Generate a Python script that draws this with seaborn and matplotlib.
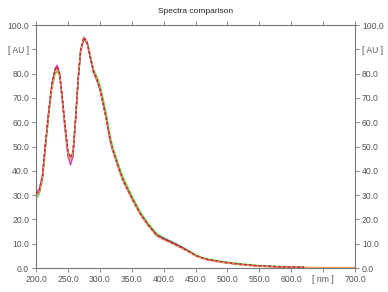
import numpy as np
import pandas as pd
import matplotlib
matplotlib.use("Agg")
import matplotlib.pyplot as plt
import seaborn as sns

# wavelengths (nm)
wavelength = [200, 205, 210, 215, 220, 225, 230, 233, 237, 240, 245, 250, 254, 258,
              262, 266, 270, 275, 280, 285, 290, 295, 300, 305, 310, 316, 320, 330,
              337, 350, 363, 375, 389, 400, 410, 420, 430, 440, 450, 460, 470, 483,
              500, 520, 550, 590, 620]

spectrum_magenta = [31.0, 32.5, 38, 52, 65, 76, 82, 83.5, 80, 72, 58, 46, 42.5, 46,
                    61, 78, 90, 95, 93, 87, 81, 78, 74, 68, 61.5, 53, 49, 40.5,
                    35.5, 28.5, 22.3, 17.8, 13.4, 11.8, 10.6, 9.3, 8.0, 6.6, 5.1, 4.1, 3.4, 2.8,
                    2.1, 1.5, 0.8, 0.4, 0.3]
spectrum_red = [30.5, 32, 38, 52, 65, 76, 82, 83, 80, 73, 60, 48, 45.5, 48,
                62, 78, 90, 95, 93, 87, 81, 78, 74, 68, 62, 53, 49, 41,
                36, 29, 22.6, 18, 13.6, 12, 10.8, 9.5, 8.2, 6.8, 5.2, 4.2, 3.5, 2.9,
                2.2, 1.6, 0.9, 0.5, 0.3]
spectrum_green = [28.5, 30.5, 36, 50, 63, 74, 80, 81, 79, 72, 59, 47.5, 45, 48,
                  62, 78, 90, 94.5, 93, 87.5, 82, 79, 75.5, 70, 63.5, 54.5, 50, 42,
                  37, 29.8, 23.3, 18.6, 14.2, 12.5, 11.2, 9.9, 8.6, 7.1, 5.5, 4.4, 3.7, 3.1,
                  2.4, 1.8, 1.0, 0.6, 0.4]
spectrum_purple = [30.0, 31.5, 37.5, 51.5, 64.5, 75.5, 81.5, 82.5, 79.5, 72.5, 59.5, 47.5, 44.5, 47.5,
                   61.5, 77.5, 89.5, 94.5, 92.5, 86.5, 80.5, 77.5, 73.5, 67.5, 61.5, 52.5, 48.5, 40.5,
                   35.5, 28.8, 22.4, 17.9, 13.6, 12.2, 11.0, 9.7, 8.3, 6.8, 5.2, 4.1, 3.4, 2.8,
                   2.1, 1.5, 0.8, 0.4, 0.3]
orange_wavelength = [200, 205, 210, 215, 220, 225, 230, 233, 237, 240, 245, 250, 254, 258,
                     262, 266, 270, 275, 280, 285, 290, 295, 300, 305, 310, 316, 320, 330,
                     337, 350, 363, 375, 389, 400, 410, 420, 430, 440, 450, 460, 470, 483,
                     500, 520, 550, 590, 620, 650, 700]
spectrum_orange = [30.0, 31.5, 37, 51, 64, 75, 81, 82, 79.5, 72.5, 59.5, 47.5, 44.5, 47.5,
                   61.5, 78, 90, 95, 93, 87, 81, 78, 74, 68, 61.5, 52.5, 48.5, 40.5,
                   35.5, 28.5, 22.2, 17.6, 13.2, 11.6, 10.5, 9.2, 7.9, 6.5, 5.0, 4.0, 3.3, 2.7,
                   2.0, 1.4, 0.7, 0.4, 0.3, 0.2, 0.2]

series_names = ["magenta", "green", "purple", "red", "orange"]
series_colors = {"magenta": "#d040c0", "green": "#60e040", "purple": "#6a3d8a",
                 "red": "#d02030", "orange": "#f5a060"}

frames = []
for name, wl, vals in [("magenta", wavelength, spectrum_magenta),
                       ("green", wavelength, spectrum_green),
                       ("purple", wavelength, spectrum_purple),
                       ("red", wavelength, spectrum_red),
                       ("orange", orange_wavelength, spectrum_orange)]:
    frames.append(pd.DataFrame({"nm": wl, "AU": vals, "series": name}))
df = pd.concat(frames, ignore_index=True)

x_ticks = [200, 250, 300, 350, 400, 450, 500, 550, 600, 650, 700]
x_tick_labels = ["200.0", "250.0", "300.0", "350.0", "400.0", "450.0", "500.0",
                 "550.0", "600.0", "[ nm ]", "700.0"]
y_ticks = [0, 10, 20, 30, 40, 50, 60, 70, 80, 90, 100]
y_tick_labels = ["0.0", "10.0", "20.0", "30.0", "40.0", "50.0", "60.0", "70.0",
                 "80.0", "[ AU ]", "100.0"]

sns.set_theme(style="white")
plt.rcParams["font.family"] = ["Liberation Sans", "DejaVu Sans"]

fig = plt.figure(figsize=(3.88, 2.92), dpi=100)
ax = fig.add_axes([0.093, 0.082, 0.822, 0.832])

sns.lineplot(data=df, x="nm", y="AU", hue="series", palette=series_colors,
             hue_order=series_names, linewidth=1.0, ax=ax, legend=False,
             sort=False, estimator=None)
# red dotted overlay like the reference
ax.lines[3].set_linestyle((0, (2, 1.5)))
ax.lines[3].set_zorder(5)

ax.set_xlim(200, 700)
ax.set_ylim(0, 100)
ax.set_xlabel("")
ax.set_ylabel("")
ax.set_xticks(x_ticks)
ax.set_xticklabels(x_tick_labels)
ax.set_yticks(y_ticks)
ax.set_yticklabels(y_tick_labels)

tc = "#555555"
for s in ax.spines.values():
    s.set_color("#777777")
    s.set_linewidth(0.8)
ax.tick_params(axis="both", which="both", direction="out", length=3, width=0.6,
               color="#777777", labelsize=6.2, labelcolor=tc, pad=2)
ax.tick_params(axis="x", top=True, bottom=True, labeltop=False)
ax.tick_params(axis="y", left=True, right=True, labelright=True, labelleft=True)

ax.set_title("Spectra comparison", fontsize=6, color="#222222", pad=9)

fig.savefig("out.png", dpi=100)
